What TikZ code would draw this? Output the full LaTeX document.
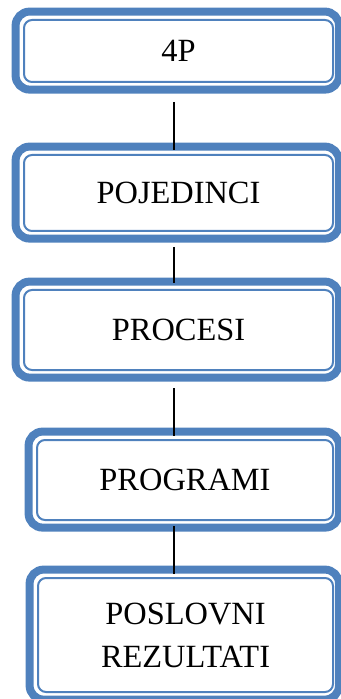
\documentclass[tikz,border=0pt]{standalone}
\usepackage{fontspec}
\setmainfont{Liberation Serif}
\usetikzlibrary{arrows}

\definecolor{boxblue}{RGB}{79,129,189}

\begin{document}
\begin{tikzpicture}[x=0.5pt,y=-0.5pt,font=\fontsize{16.2}{21.5}\selectfont,
        box/.style={draw=boxblue, line width=1pt, rounded corners=4pt, outer sep=0pt, inner sep=0pt, align=center, minimum width=154.5pt},
        frame/.style={draw=boxblue, line width=4pt, rounded corners=7pt},
        link/.style={draw=black, line width=1pt}]
        \useasboundingbox (0,0) rectangle (341,699);
        \node [box, anchor=north west, minimum height=31pt] at (24,20) (p4) {4P};
        \node [box, anchor=north west, minimum height=38pt] at (24,155) (pojedinci) {POJEDINCI};
        \node [box, anchor=north west, minimum height=40pt] at (24,290) (procesi) {PROCESI};
        \node [box, anchor=north west, minimum height=40pt, minimum width=148pt] at (37,440) (programi) {PROGRAMI};
        \node [box, anchor=north west, minimum height=57pt, minimum width=147.5pt] at (38,578) (rezultati) {POSLOVNI\\REZULTATI};
        \foreach \n in {p4,pojedinci,procesi,programi,rezultati}
            \draw [frame] ([xshift=-4.2pt,yshift=-3.8pt]\n.south west) rectangle ([xshift=3pt,yshift=4.2pt]\n.north east);
        \coordinate (axis) at (174,0);
        \draw [link, shorten <=10pt, shorten >=2.5pt] (p4.south -| axis) -- (pojedinci.north -| axis);
        \draw [link, shorten <=8pt, shorten >=3.5pt] (pojedinci.south -| axis) -- (procesi.north -| axis);
        \draw [link, shorten <=9pt, shorten >=2pt] (procesi.south -| axis) -- (programi.north -| axis);
        \draw [link, shorten <=3pt, shorten >=2pt] (programi.south -| axis) -- (rezultati.north -| axis);
\end{tikzpicture}
\end{document}
